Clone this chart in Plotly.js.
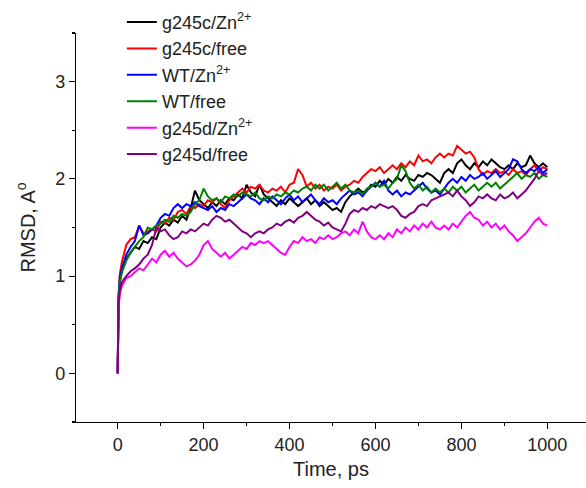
<!DOCTYPE html>
<html>
<head>
<meta charset="utf-8">
<script src="https://cdn.plot.ly/plotly-3.0.1.min.js"></script>
<style>html,body{margin:0;padding:0;background:#fff;}#chart{width:586px;height:488px;}</style>
</head>
<body>
<div id="chart"></div>
<script>
// Time (ps)
const time = [0,2,5,10,20,30,40,50,60,70,80,90,100,110,120,130,140,150,160,170,180,190,200,
210,220,230,240,250,260,270,280,290,300,310,320,330,340,350,360,370,380,390,400,
410,420,430,440,450,460,470,480,490,500,510,520,530,540,550,560,570,580,590,600,
610,620,630,640,650,660,670,680,690,700,710,720,730,740,750,760,770,780,790,800,
810,820,830,840,850,860,870,880,890,900,910,920,930,940,950,960,970,980,990,1000];

const seriesNames = ["g245c/Zn<sup>2+</sup>","g245c/free","WT/Zn<sup>2+</sup>","WT/free","g245d/Zn<sup>2+</sup>","g245d/free"];

const g245cZn = [0,0.72,0.95,1.06,1.18,1.24,1.30,1.28,1.36,1.34,1.40,1.38,1.50,1.55,1.52,1.58,1.55,1.62,1.58,1.70,1.88,1.78,1.74,
1.70,1.76,1.72,1.78,1.74,1.80,1.78,1.84,1.80,1.94,1.86,1.82,1.94,1.84,1.80,1.76,1.72,1.78,1.74,1.80,
1.76,1.72,1.76,1.80,1.74,1.78,1.72,1.76,1.72,1.68,1.70,1.66,1.76,1.82,1.86,1.90,1.86,1.88,1.94,1.92,
1.98,1.94,2.00,1.96,2.02,1.98,2.04,2.00,1.98,2.04,2.02,2.06,2.04,2.00,1.96,2.06,2.10,2.06,2.16,2.20,
2.14,2.10,2.16,2.12,2.18,2.14,2.20,2.16,2.12,2.10,2.14,2.10,2.16,2.12,2.14,2.24,2.16,2.12,2.16,2.12];

const g245cFree = [0,0.80,1.02,1.15,1.32,1.38,1.40,1.52,1.44,1.46,1.48,1.46,1.56,1.54,1.60,1.58,1.66,1.68,1.64,1.72,1.70,1.74,1.72,
1.78,1.76,1.80,1.74,1.70,1.78,1.82,1.86,1.90,1.86,1.92,1.90,1.94,1.88,1.86,1.90,1.88,1.92,1.86,1.94,
1.96,2.10,2.04,1.92,1.96,1.90,1.94,1.88,1.92,1.90,1.94,1.88,1.92,1.94,1.98,1.96,2.02,2.06,2.10,2.08,
2.12,2.06,2.10,2.14,2.10,2.16,2.12,2.18,2.14,2.24,2.18,2.20,2.16,2.22,2.26,2.22,2.26,2.24,2.34,2.30,
2.26,2.28,2.22,2.10,2.04,2.08,2.06,2.10,2.06,2.08,2.04,2.10,2.06,2.08,2.04,2.10,2.14,2.08,2.12,2.10];

const wtZn = [0,0.78,0.98,1.08,1.22,1.30,1.36,1.52,1.42,1.44,1.48,1.52,1.60,1.64,1.62,1.70,1.74,1.70,1.74,1.72,1.76,1.72,1.70,
1.68,1.72,1.66,1.70,1.68,1.74,1.72,1.76,1.80,1.84,1.80,1.78,1.74,1.80,1.76,1.82,1.78,1.74,1.80,1.84,
1.78,1.82,1.76,1.80,1.84,1.78,1.74,1.80,1.76,1.78,1.74,1.80,1.84,1.88,1.84,1.86,1.82,1.88,1.92,1.96,
1.92,1.98,1.88,1.84,1.88,1.82,1.86,1.84,1.88,1.92,1.96,1.90,1.86,1.88,1.84,1.90,1.96,2.00,1.96,2.02,
1.98,2.04,2.00,2.02,2.06,2.00,2.04,2.08,2.02,2.06,2.10,2.20,2.18,2.10,2.06,2.10,2.08,2.12,2.06,2.10];

const wtFree = [0,0.76,0.94,1.04,1.16,1.24,1.30,1.36,1.40,1.50,1.48,1.52,1.54,1.58,1.56,1.62,1.60,1.64,1.62,1.66,1.74,1.78,1.90,
1.82,1.78,1.80,1.76,1.82,1.80,1.84,1.82,1.86,1.84,1.82,1.86,1.80,1.78,1.82,1.80,1.84,1.82,1.86,1.84,
1.88,1.86,1.90,1.92,1.88,1.94,1.90,1.94,1.88,1.92,1.96,1.90,1.94,1.88,1.86,1.88,1.84,1.90,1.92,1.96,
1.92,1.94,1.90,1.96,2.00,2.14,2.08,1.96,1.90,1.94,1.88,1.92,1.86,1.90,1.86,1.90,1.86,1.92,1.88,1.92,
1.86,1.90,1.94,1.88,1.92,1.96,1.92,1.96,1.90,1.94,1.98,2.02,2.06,2.00,2.04,2.02,2.06,2.00,2.04,2.02];

const g245dZn = [0,0.66,0.82,0.90,0.98,1.00,1.04,1.08,1.06,1.12,1.18,1.14,1.22,1.26,1.20,1.24,1.18,1.14,1.10,1.12,1.16,1.22,1.32,
1.36,1.28,1.24,1.20,1.24,1.18,1.22,1.26,1.30,1.28,1.34,1.32,1.36,1.34,1.36,1.32,1.28,1.24,1.22,1.30,
1.36,1.34,1.40,1.36,1.38,1.34,1.40,1.38,1.42,1.38,1.40,1.44,1.46,1.42,1.48,1.44,1.56,1.46,1.40,1.38,
1.42,1.38,1.44,1.40,1.48,1.44,1.50,1.46,1.52,1.48,1.54,1.50,1.56,1.50,1.48,1.52,1.48,1.54,1.50,1.56,
1.62,1.66,1.60,1.58,1.52,1.56,1.50,1.54,1.48,1.52,1.46,1.42,1.36,1.40,1.44,1.50,1.56,1.60,1.54,1.52];

const g245dFree = [0,0.70,0.86,0.94,1.00,1.05,1.08,1.12,1.18,1.22,1.32,1.50,1.46,1.48,1.42,1.38,1.40,1.46,1.44,1.48,1.46,1.50,1.54,
1.52,1.58,1.62,1.60,1.56,1.58,1.54,1.50,1.46,1.44,1.40,1.44,1.46,1.44,1.48,1.50,1.54,1.52,1.56,1.58,
1.55,1.60,1.62,1.66,1.62,1.58,1.56,1.52,1.55,1.50,1.48,1.46,1.54,1.64,1.68,1.66,1.70,1.68,1.72,1.70,
1.74,1.72,1.70,1.72,1.68,1.62,1.60,1.64,1.66,1.72,1.74,1.72,1.78,1.80,1.82,1.84,1.86,1.82,1.88,1.82,
1.78,1.72,1.76,1.82,1.80,1.84,1.80,1.78,1.84,1.80,1.82,1.86,1.80,1.84,1.88,1.94,2.00,2.08,2.04,2.06];

const seriesValues = [g245cZn, g245cFree, wtZn, wtFree, g245dZn, g245dFree];
const seriesColors = ["#000000","#ff0000","#0000ff","#008000","#ff00ff","#800080"];

const xTickVals = [0,200,400,600,800,1000];
const yTickVals = [0,1,2,3];

const traces = seriesValues.map((v,i)=>({
  x: time, y: v, type:"scatter", mode:"lines", name: seriesNames[i],
  line:{color: seriesColors[i], width:2}
}));

const FF = "Liberation Sans, Arial, sans-serif";

const layout = {
  width:586, height:488,
  margin:{l:76, r:0, t:33, b:66},
  paper_bgcolor:"#fff", plot_bgcolor:"#fff",
  font:{family:FF, size:18, color:"#222"},
  showlegend:true,
  legend:{x:0.09, y:1.075, xanchor:"left", yanchor:"top", bgcolor:"rgba(0,0,0,0)",
          font:{family:FF, size:18, color:"#222"},
          itemwidth:30, tracegroupgap:0},
  xaxis:{range:[-97,1090], showgrid:false, zeroline:false, showline:true, linecolor:"#000", linewidth:1.2,
         ticks:"outside", ticklen:6, tickwidth:1.2, tickcolor:"#000", tickvals:xTickVals,
         minor:{dtick:100, ticks:"outside", ticklen:3, tickwidth:1.2, tickcolor:"#000", showgrid:false},
         tickfont:{family:FF, size:18, color:"#222"},
         title:{text:"Time, ps", font:{family:FF, size:20, color:"#222"}, standoff:8}},
  yaxis:{range:[-0.5,3.5], showgrid:false, zeroline:false, showline:true, linecolor:"#000", linewidth:1.2,
         ticks:"outside", ticklen:6, tickwidth:1.2, tickcolor:"#000", tickvals:yTickVals,
         minor:{dtick:0.5, ticks:"outside", ticklen:3, tickwidth:1.2, tickcolor:"#000", showgrid:false},
         tickfont:{family:FF, size:18, color:"#222"},
         title:{text:"RMSD, A<sup>o</sup>", font:{family:FF, size:20, color:"#222"}, standoff:14}}
};

Plotly.newPlot("chart", traces, layout, {displayModeBar:false, staticPlot:true});
</script>
</body>
</html>
